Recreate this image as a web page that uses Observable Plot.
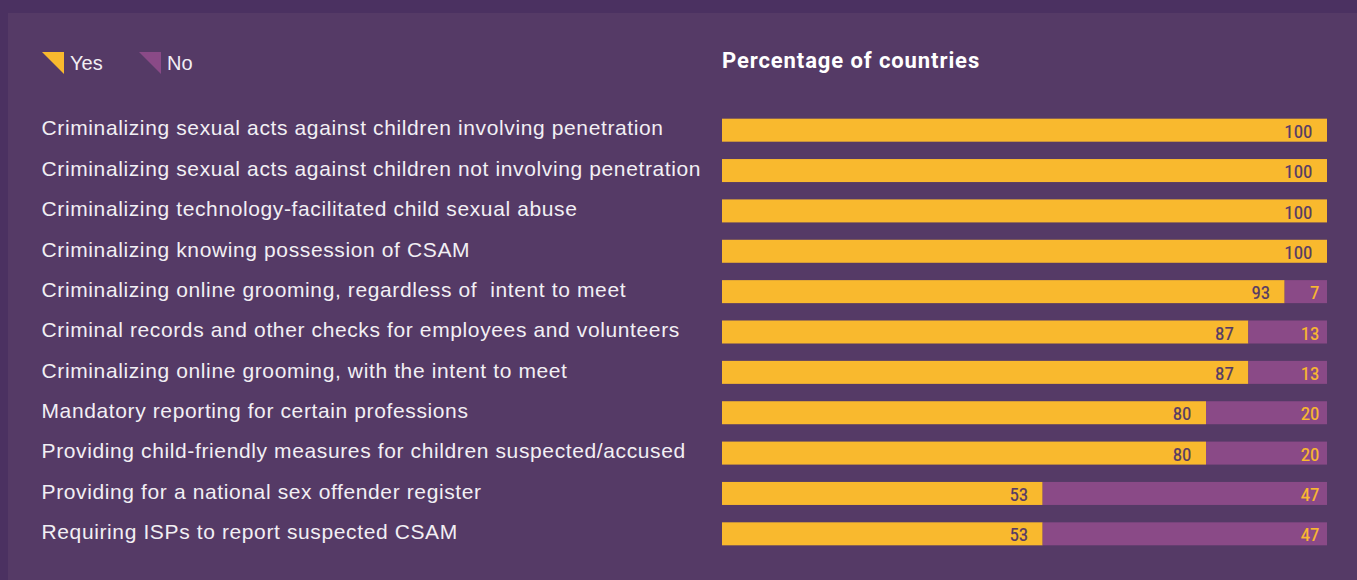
<!DOCTYPE html>
<html>
<head>
<meta charset="utf-8">
<script src="https://cdn.jsdelivr.net/npm/d3@7"></script>
<script src="https://cdn.jsdelivr.net/npm/@observablehq/plot@0.6"></script>
<style>
  html, body { margin: 0; padding: 0; }
  body { width: 1357px; height: 580px; background: #4b3161; position: relative; overflow: hidden; font-family: "Liberation Sans", Arial, sans-serif; }
  #panel { position: absolute; left: 8px; top: 13px; width: 1349px; height: 567px; background: #553a66; }
  .legend { position: absolute; top: 39px; height: 22px; display: flex; align-items: center; color: #f2eff4; font-size: 20px; }
  .legend svg { margin-right: 6px; }
  #title { position: absolute; left: 714px; top: 35px; color: #ffffff; font-family: Roboto, "Liberation Sans", sans-serif; font-weight: 700; font-size: 22px; letter-spacing: 0.9px; }
  #chart { position: absolute; left: 0; top: 97px; }
</style>
</head>
<body>
<div id="panel">
  <div class="legend" id="legYes" style="left:34px"></div>
  <div class="legend" id="legNo" style="left:131px"></div>
  <div id="title">Percentage of countries</div>
  <div id="chart"></div>
</div>
<script>
const categories = [
  "Criminalizing sexual acts against children involving penetration",
  "Criminalizing sexual acts against children not involving penetration",
  "Criminalizing technology-facilitated child sexual abuse",
  "Criminalizing knowing possession of CSAM",
  "Criminalizing online grooming, regardless of  intent to meet",
  "Criminal records and other checks for employees and volunteers",
  "Criminalizing online grooming, with the intent to meet",
  "Mandatory reporting for certain professions",
  "Providing child-friendly measures for children suspected/accused",
  "Providing for a national sex offender register",
  "Requiring ISPs to report suspected CSAM"
];
const yesValues = [100, 100, 100, 100, 93, 87, 87, 80, 80, 53, 53];
const noValues = [0, 0, 0, 0, 7, 13, 13, 20, 20, 47, 47];
const responses = ["Yes", "No"];
const responseColors = ["#f9b92e", "#8a4a87"];

const rows = [];
categories.forEach((c, i) => {
  rows.push({cat: c, resp: "Yes", value: yesValues[i]});
  rows.push({cat: c, resp: "No", value: noValues[i]});
});
const yesRows = rows.filter(d => d.resp === "Yes");
const noRows = rows.filter(d => d.resp === "No" && d.value > 0);

// legend
function tri(color) {
  return `<svg width="22" height="22" viewBox="0 0 22 22"><polygon points="0,0 22,0 22,22" fill="${color}"/></svg>`;
}
document.getElementById("legYes").innerHTML = tri(responseColors[0]) + "<span>Yes</span>";
document.getElementById("legNo").innerHTML = tri(responseColors[1]) + "<span>No</span>";

const numFont = '"Liberation Sans Narrow", "Roboto Condensed", Roboto, sans-serif';

const chart = Plot.plot({
  width: 1349,
  height: 444,
  marginLeft: 714,
  marginRight: 30,
  marginTop: 0,
  marginBottom: 0,
  style: {background: "transparent", overflow: "visible", fontFamily: '"Liberation Sans", Arial, sans-serif'},
  x: {domain: [0, 100], axis: null},
  y: {domain: categories, axis: null, paddingInner: 0.43, paddingOuter: 0.215, round: false},
  color: {domain: responses, range: responseColors},
  marks: [
    Plot.barX(rows, Plot.stackX({y: "cat", x: "value", fill: "resp", order: responses})),
    Plot.text(categories, {y: d => d, text: d => d, frameAnchor: "left", textAnchor: "start", dx: -681, dy: -2, fill: "#f2eff4", fontSize: 21}),
    Plot.text(yesRows, {y: "cat", x: "value", text: d => String(d.value), textAnchor: "end", dx: -15, dy: 1, fill: "#553a66", stroke: "#553a66", strokeWidth: 0.2, fontSize: 19, fontFamily: numFont, fontWeight: 400}),
    Plot.text(noRows, {y: "cat", x: () => 100, text: d => String(d.value), textAnchor: "end", dx: -8, dy: 1, fill: "#f9b92e", stroke: "#f9b92e", strokeWidth: 0.2, fontSize: 19, fontFamily: numFont, fontWeight: 400})
  ]
});
// letter-spacing for category labels
d3.select(chart).selectAll("g[aria-label=text]").filter((d, i) => i === 0).style("letter-spacing", "0.62px");
document.getElementById("chart").appendChild(chart);
</script>
</body>
</html>
